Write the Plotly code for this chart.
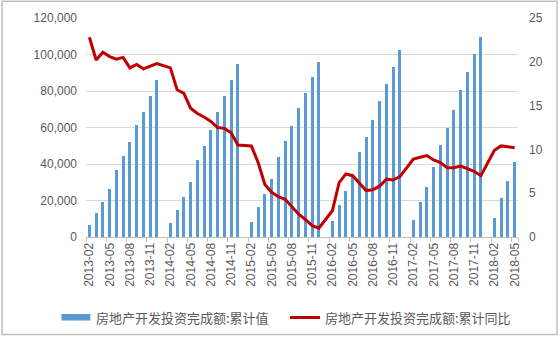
import plotly.graph_objects as go

# ---------------- data ----------------
months = ([f"2013-{m:02d}" for m in range(2, 13)] +
          [f"{y}-{m:02d}" for y in range(2014, 2018) for m in range(1, 13)] +
          [f"2018-{m:02d}" for m in range(1, 6)])

# 房地产开发投资完成额:累计值 (亿元), None = no January release
invest_2013 = [6670, 12900, 19100, 26500, 36800, 44300, 51900, 61100, 68600, 77000, 86013]
invest_2014 = [None, 7600, 15000, 22000, 30300, 42000, 49800, 58700, 68751, 77200, 86300, 95036]
invest_2015 = [None, 8400, 16400, 23600, 31900, 43900, 52600, 60900, 70500, 78700, 87500, 95979]
invest_2016 = [None, 8800, 17500, 25300, 33600, 46400, 55000, 64200, 74600, 83800, 93300, 102581]
invest_2017 = [None, 9500, 19200, 27600, 38500, 50610, 59700, 69600, 80600, 90600, 100400, 109799]
invest_2018 = [None, 10357, 21291, 30592, 40985]
invest = invest_2013 + invest_2014 + invest_2015 + invest_2016 + invest_2017 + invest_2018

# 房地产开发投资完成额:累计同比 (%)
yoy_2013 = [22.8, 20.2, 21.1, 20.6, 20.3, 20.5, 19.3, 19.7, 19.2, 19.5, 19.8]
yoy_2014 = [None, 19.3, 16.8, 16.4, 14.7, 14.1, 13.7, 13.2, 12.5, 12.4, 11.9, 10.5]
yoy_2015 = [None, 10.4, 8.5, 6.0, 5.1, 4.6, 4.3, 3.5, 2.6, 2.0, 1.3, 1.0]
yoy_2016 = [None, 3.0, 6.2, 7.2, 7.0, 6.1, 5.3, 5.4, 5.8, 6.6, 6.5, 6.9]
yoy_2017 = [None, 8.9, 9.1, 9.3, 8.8, 8.5, 7.9, 7.9, 8.1, 7.8, 7.5, 7.0]
yoy_2018 = [None, 9.9, 10.4, 10.3, 10.2]
yoy = yoy_2013 + yoy_2014 + yoy_2015 + yoy_2016 + yoy_2017 + yoy_2018

tick_labels = months[::3]
left_ticks = [0, 20000, 40000, 60000, 80000, 100000, 120000]
right_ticks = [0, 5, 10, 15, 20, 25]

bar_name = "房地产开发投资完成额:累计值"
line_name = "房地产开发投资完成额:累计同比"

# ---------------- layout geometry (pixels) ----------------
W, H = 560, 339
PL, PR, PT, PB = 85.6, 518.4, 18.3, 236.7


def px(x):
    return (x - PL) / (PR - PL)


def py(y):
    return (PB - y) / (PB - PT)


GRAY_TXT = "#595959"
tick_font = dict(family="Liberation Sans, Arial, sans-serif", size=12, color=GRAY_TXT)
cjk_font = dict(family="Noto Sans CJK SC, sans-serif", size=13, color=GRAY_TXT)

fig = go.Figure()
fig.add_trace(go.Bar(x=months, y=invest, name=bar_name, marker_color="#5B9BD5",
                     marker_line_width=0, width=0.45, yaxis="y"))
fig.add_trace(go.Scatter(x=months, y=yoy, name=line_name, mode="lines",
                         line=dict(color="#C00000", width=3), connectgaps=True,
                         yaxis="y2"))

fig.update_layout(
    width=W, height=H,
    margin=dict(l=PL, r=W - PR, t=PT, b=H - PB, pad=0),
    paper_bgcolor="white", plot_bgcolor="white",
    showlegend=False,
    bargap=0,
    xaxis=dict(type="category", categoryorder="array", categoryarray=months,
               range=[-0.5, len(months) - 0.5],
               tickmode="array", tickvals=tick_labels, ticktext=tick_labels,
               tickangle=-90, tickfont=tick_font, tickson="boundaries",
               ticks="outside", ticklen=4, tickcolor="#BFBFBF",
               showgrid=False, showline=True, linecolor="#BFBFBF", linewidth=1,
               zeroline=False),
    yaxis=dict(range=[0, 120000], tickmode="array", tickvals=left_ticks,
               ticktext=[f"{v:,}" for v in left_ticks], tickfont=tick_font,
               showgrid=True, gridcolor="#D9D9D9", gridwidth=1,
               zeroline=False, showline=False, ticks="", ticklabelstandoff=8),
    yaxis2=dict(range=[0, 25], overlaying="y", side="right", tickmode="array",
                tickvals=right_ticks, ticktext=[str(v) for v in right_ticks],
                tickfont=tick_font, showgrid=False, zeroline=False,
                showline=False, ticks="", ticklabelstandoff=10),
)

shapes = [
    # outer frame
    dict(type="rect", xref="paper", yref="paper", x0=px(1.5), x1=px(557.5),
         y0=py(334), y1=py(1.5), line=dict(color="#BFBFBF", width=1.5),
         fillcolor="rgba(0,0,0,0)", layer="below"),
    # legend: bar symbol
    dict(type="rect", xref="paper", yref="paper", x0=px(61), x1=px(90),
         y0=py(320), y1=py(313.5), line=dict(width=0), fillcolor="#5B9BD5"),
    # legend: line symbol
    dict(type="line", xref="paper", yref="paper", x0=px(290), x1=px(320),
         y0=py(317), y1=py(317), line=dict(color="#C00000", width=3)),
]
fig.update_layout(shapes=shapes)

fig.add_annotation(text=bar_name, xref="paper", yref="paper", x=px(94), y=py(317),
                   xanchor="left", yanchor="middle", showarrow=False, font=cjk_font)
fig.add_annotation(text=line_name, xref="paper", yref="paper", x=px(323), y=py(317),
                   xanchor="left", yanchor="middle", showarrow=False, font=cjk_font)

fig.write_html("out.html")
